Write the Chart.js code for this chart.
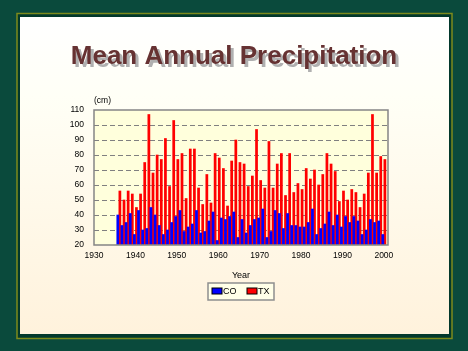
<!DOCTYPE html>
<html>
<head>
<meta charset="utf-8">
<script src="https://cdn.jsdelivr.net/npm/chart.js@4.4.0/dist/chart.umd.min.js"></script>
<style>
  html, body { margin: 0; padding: 0; background: #0a4a3c; }
  canvas { display: block; }
</style>
</head>
<body>
<canvas id="precipChart" width="468" height="351"></canvas>
<script>
// years shown on the chart
const years = [
    1936, 1937, 1938, 1939, 1940, 1941, 1942, 1943, 1944, 1945,
    1946, 1947, 1948, 1949, 1950, 1951, 1952, 1953, 1954, 1955,
    1956, 1957, 1958, 1959, 1960, 1961, 1962, 1963, 1964, 1965,
    1966, 1967, 1968, 1969, 1970, 1971, 1972, 1973, 1974, 1975,
    1976, 1977, 1978, 1979, 1980, 1981, 1982, 1983, 1984, 1985,
    1986, 1987, 1988, 1989, 1990, 1991, 1992, 1993, 1994, 1995,
    1996, 1997, 1998, 1999, 2000
];

// Colorado (cm)
const coValues = [
    40, 33, 35, 41, 27, 43, 30, 31, 45, 40,
    33, 27, 30, 35, 39, 43, 29, 32, 34, 43,
    28, 29, 36, 42, 23, 38, 37, 39, 42, 25,
    37, 28, 33, 37, 38, 44, 25, 29, 43, 41,
    31, 41, 33, 33, 32, 32, 35, 44, 27, 31,
    34, 42, 33, 40, 32, 39, 35, 39, 36, 27,
    30, 37, 35, 36, 27
];

// Texas (cm)
const txValues = [
    56, 50, 56, 54, 45, 54, 75, 107, 68, 80,
    77, 91, 59, 103, 77, 81, 51, 84, 84, 58,
    47, 67, 48, 81, 78, 71, 46, 76, 90, 75,
    74, 59, 66, 97, 63, 58, 89, 58, 74, 81,
    53, 81, 55, 61, 57, 71, 64, 70, 60, 67,
    81, 74, 69, 49, 56, 50, 57, 55, 45, 54,
    68, 107, 68, 79, 77
];

const xTicks = [1930, 1940, 1950, 1960, 1970, 1980, 1990, 2000];
const yTicks = [20, 30, 40, 50, 60, 70, 80, 90, 100, 110];

const chartTitle = 'Mean Annual Precipitation';
const yUnit = '(cm)';
const xTitle = 'Year';

const FONT = '"Liberation Sans", Arial, sans-serif';

// 背景、標題、圖框、圖例
const slideDecor = {
    id: 'slideDecor',
    beforeDraw(chart) {
        const ctx = chart.ctx;
        const { left, top, right, bottom } = chart.chartArea;
        ctx.save();
        // dark green slide background
        ctx.fillStyle = '#0a4a3c';
        ctx.fillRect(0, 0, chart.width, chart.height);
        // olive frame + dark gap
        ctx.fillStyle = '#02382b';
        ctx.fillRect(17, 13.5, 435, 325);
        ctx.strokeStyle = '#7d8a1c';
        ctx.lineWidth = 1.5;
        ctx.strokeRect(17, 13.5, 435, 325);
        // panel
        const g = ctx.createLinearGradient(0, 17, 0, 334);
        g.addColorStop(0, '#ffffff');
        g.addColorStop(0.25, '#fffff6');
        g.addColorStop(1, '#fff2dc');
        ctx.fillStyle = g;
        ctx.fillRect(20, 17, 429, 317);

        // title with shadow
        ctx.font = 'bold 26px ' + FONT;
        ctx.textAlign = 'center';
        ctx.textBaseline = 'alphabetic';
        ctx.fillStyle = '#b0b0b0';
        ctx.fillText(chartTitle, 237, 67);
        ctx.fillStyle = '#663232';
        ctx.fillText(chartTitle, 234, 64);

        // plot area
        ctx.fillStyle = '#ffffdc';
        ctx.fillRect(left, top, right - left, bottom - top);
        ctx.restore();
    },
    afterDraw(chart) {
        const ctx = chart.ctx;
        const { left, top, right, bottom } = chart.chartArea;
        ctx.save();
        ctx.strokeStyle = '#858585';
        ctx.lineWidth = 1.5;
        ctx.strokeRect(left, top, right - left, bottom - top);

        ctx.font = '8.5px ' + FONT;
        ctx.fillStyle = '#000';
        ctx.textAlign = 'left';
        ctx.textBaseline = 'middle';
        ctx.fillText(yUnit, left, top - 9);

        // legend box
        const bx = 208, by = 283, bw = 66, bh = 17;
        ctx.fillStyle = '#ffffe8';
        ctx.fillRect(bx, by, bw, bh);
        ctx.strokeStyle = '#8e8e8e';
        ctx.lineWidth = 1.5;
        ctx.strokeRect(bx, by, bw, bh);
        ctx.font = '9px ' + FONT;
        let x = bx + 4;
        chart.data.datasets.forEach(ds => {
            ctx.fillStyle = ds.backgroundColor;
            ctx.fillRect(x, by + 5, 10, 6);
            ctx.strokeStyle = '#000';
            ctx.lineWidth = 1;
            ctx.strokeRect(x, by + 5, 10, 6);
            ctx.fillStyle = '#000';
            ctx.fillText(ds.label, x + 11, by + 8.5);
            x += 35;
        });
        ctx.restore();
    }
};

const precipChart = new Chart(document.getElementById('precipChart'), {
    type: 'bar',
    data: {
        datasets: [
            {
                label: 'CO',
                data: years.map((y, i) => ({ x: y, y: coValues[i] })),
                backgroundColor: '#0000ff',
                borderWidth: 0,
                base: 20,
                barPercentage: 1,
                categoryPercentage: 1
            },
            {
                label: 'TX',
                data: years.map((y, i) => ({ x: y, y: txValues[i] })),
                backgroundColor: '#ff0000',
                borderWidth: 0,
                base: 20,
                barPercentage: 1,
                categoryPercentage: 1
            }
        ]
    },
    options: {
        responsive: false,
        animation: false,
        devicePixelRatio: 1,
        layout: { padding: { left: 60, right: 80, top: 110, bottom: 66 } },
        plugins: {
            legend: { display: false },
            tooltip: { enabled: false }
        },
        scales: {
            x: {
                type: 'linear',
                min: 1930,
                max: 2001,
                offset: false,
                afterBuildTicks: s => { s.ticks = xTicks.map(v => ({ value: v })); },
                afterFit: s => { s.height = 40; },
                grid: { display: false, drawTicks: false },
                border: { display: false },
                ticks: {
                    font: { family: FONT, size: 8.5 },
                    color: '#000',
                    padding: 6,
                    maxRotation: 0,
                    autoSkip: false,
                    callback: v => String(v)
                },
                title: {
                    display: true,
                    text: xTitle,
                    font: { family: FONT, size: 9 },
                    color: '#000',
                    padding: { top: 6, bottom: 4 }
                }
            },
            y: {
                min: 20,
                max: 110,
                afterBuildTicks: s => { s.ticks = yTicks.map(v => ({ value: v })); },
                afterFit: s => { s.width = 34; },
                grid: {
                    drawTicks: false,
                    lineWidth: 1,
                    color: c => (c.tick.value === 20 || c.tick.value === 110) ? 'rgba(0,0,0,0)' : '#808080'
                },
                border: { display: false, dash: [5, 3] },
                ticks: {
                    font: { family: FONT, size: 8.5 },
                    color: '#000',
                    padding: 10
                }
            }
        }
    },
    plugins: [slideDecor]
});
</script>
</body>
</html>
